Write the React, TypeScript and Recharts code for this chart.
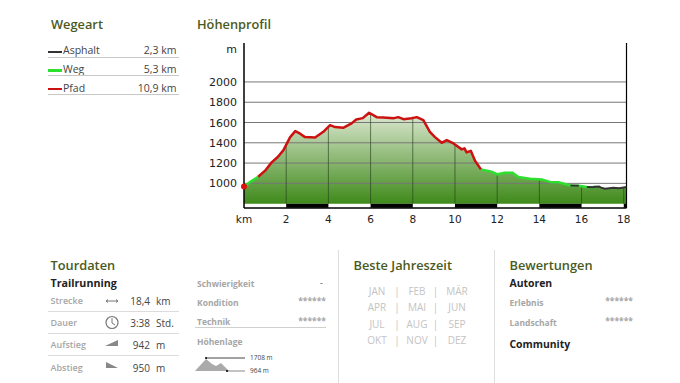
import React from "react";
import { ComposedChart, Area, Line, XAxis, YAxis, ReferenceLine, ReferenceArea, ReferenceDot } from "recharts";

const kmValues = [0,0.3,0.67,1.0,1.31,1.61,1.87,2.18,2.43,2.66,2.89,3.37,3.76,4.08,4.32,4.70,5.10,5.32,5.63,5.93,6.29,6.60,7.11,7.31,7.56,7.94,8.19,8.50,8.81,9.04,9.37,9.61,9.93,10.32,10.45,10.55,10.75,10.95,11.23,11.73,12.02,12.36,12.73,13.0,13.56,14.11,14.57,14.9,15.47,15.87,16.02,16.25,16.53,16.64,16.83,16.93,17.11,17.51,17.78,18.13];
const elevations = [970,1015,1065,1125,1207,1262,1328,1453,1515,1490,1456,1452,1508,1574,1555,1548,1591,1630,1643,1696,1653,1650,1643,1653,1633,1642,1653,1624,1508,1458,1400,1427,1394,1335,1345,1305,1321,1223,1138,1114,1089,1104,1104,1062,1045,1039,1010,1010,980,976,972,964,962,966,968,958,947,957,953,964];
// surface of the stretch that begins at each point
const surfaces = ["W","W","P","P","P","P","P","P","P","P","P","P","P","P","P","P","P","P","P","P","P","P","P","P","P","P","P","P","P","P","P","P","P","P","P","P","P","P","W","W","W","W","W","W","W","W","W","W","A","W","W","A","W","A","A","A","A","A","A","A"];
const surfaceKeys: Record<string,string> = { A: "asphalt", W: "weg", P: "pfad" };
const colorAsphalt = "#333333", colorWeg = "#2ee02e", colorPfad = "#cc1111";

const profile = kmValues.map((km, i) => {
  const row: any = { km, ele: elevations[i] };
  const s = surfaces[i];
  row[surfaceKeys[s]] = elevations[i];
  if (i > 0) row[surfaceKeys[surfaces[i - 1]]] = elevations[i];
  return row;
});

const xTicks = [0,2,4,6,8,10,12,14,16,18];
const yTicks = [1000,1200,1400,1600,1800,2000,2325];
const blackStretches = [[2,4],[6,8],[10,12],[14,16],[18,18.13]];
const verticalKm = [2,4,6,8,10,12,14,16,18];
const gridHeights = [1000,1200,1400,1600,1800,2000];

const eleAt = (x: number) => {
  for (let i = 1; i < kmValues.length; i++) {
    if (x <= kmValues[i]) {
      const t = (x - kmValues[i-1]) / (kmValues[i] - kmValues[i-1]);
      return elevations[i-1] + t * (elevations[i] - elevations[i-1]);
    }
  }
  return elevations[elevations.length - 1];
};

const legendRows = [["Asphalt","2,3 km",colorAsphalt],["Weg","5,3 km",colorWeg],["Pfad","10,9 km",colorPfad]];
const tourRows = [["Strecke","18,4","km"],["Dauer","3:38","Std."],["Aufstieg","942","m"],["Abstieg","950","m"]];
const months = [["JAN","FEB","MÄR"],["APR","MAI","JUN"],["JUL","AUG","SEP"],["OKT","NOV","DEZ"]];

const FONT = "'Open Sans', sans-serif";
const T = ({ x, y, s, c = "#333", w = 400, a = "left", f = FONT, children }: any) => (
  <div style={{ position: "absolute", top: y, left: a === "left" ? x : undefined, right: a === "right" ? 680 - x : undefined,
    ...(a === "center" ? { left: x - 18, width: 36, textAlign: "center" as const } : {}),
    fontSize: s, color: c, fontWeight: w, fontFamily: f, lineHeight: "16px", whiteSpace: "nowrap" }}>{children}</div>
);
const Rule = ({ x, y, w, h = 1, c = "#c8c8c8" }: any) => (
  <div style={{ position: "absolute", left: x, top: y, width: w, height: h, background: c }} />
);
const HEAD = "#4a5a1e";
const GREY = "#a6a6a6";

const AxisTickY = ({ x, y, payload }: any) => (
  <text x={x + 1} y={y + 4} textAnchor="end" fontSize={11} fill="#222" fontFamily="'DejaVu Sans', sans-serif">
    {payload.value === 2325 ? "m" : payload.value}
  </text>
);
const AxisTickX = ({ x, y, payload }: any) => (
  <text x={x} y={y + 7} textAnchor="middle" fontSize={10.5} fill="#222" fontFamily="'DejaVu Sans', sans-serif">
    {payload.value === 0 ? "km" : payload.value}
  </text>
);

export default function App() {
  return (
    <div style={{ position: "absolute", left: 0, top: 0, width: 680, height: 383, background: "#fff", overflow: "hidden" }}>
      <ComposedChart width={680} height={383} data={profile} margin={{ top: 43, right: 53.5, left: 200, bottom: 151 }} style={{ position: "absolute", left: 0, top: 0 }}>
        <defs>
          <linearGradient id="fillGrad" x1="0" y1="0" x2="0" y2="1">
            <stop offset="0%" stopColor="#dde8d2" />
            <stop offset="100%" stopColor="#3f8a1a" />
          </linearGradient>
        </defs>
        <XAxis dataKey="km" type="number" domain={[0,18.13]} ticks={xTicks} interval={0} height={24} tickLine={false} axisLine={{ stroke: "#000", strokeWidth: 1.5 }} tick={<AxisTickX />} />
        <YAxis type="number" domain={[757,2384]} ticks={yTicks} interval={0} width={44} tickLine={false} axisLine={{ stroke: "#000", strokeWidth: 1.5 }} tick={<AxisTickY />} allowDataOverflow />
        <Area dataKey="ele" type="linear" baseValue={800} stroke="none" fill="url(#fillGrad)" fillOpacity={1} isAnimationActive={false} />
        {gridHeights.map((h) => (<ReferenceLine key={h} y={h} stroke="#777" strokeWidth={1} />))}
        {verticalKm.map((k) => (
          <ReferenceLine key={k} segment={[{ x: k, y: 800 }, { x: k, y: eleAt(k) }]} stroke="#24401a" strokeWidth={0.8} strokeOpacity={0.8} />
        ))}
        {blackStretches.map(([a, b]) => (
          <ReferenceArea key={a} x1={a} x2={b} y1={760} y2={800} fill="#000" fillOpacity={1} stroke="none" />
        ))}
        <ReferenceLine x={18.13} stroke="#000" strokeWidth={1.2} />
        <Line dataKey="weg" stroke={colorWeg} strokeWidth={2.5} dot={false} connectNulls={false} isAnimationActive={false} />
        <Line dataKey="asphalt" stroke={colorAsphalt} strokeWidth={2} dot={false} connectNulls={false} isAnimationActive={false} />
        <Line dataKey="pfad" stroke={colorPfad} strokeWidth={2.5} strokeLinejoin="round" dot={false} connectNulls={false} isAnimationActive={false} />
        <ReferenceDot x={0} y={970} r={3} fill="#e01010" stroke="none" />
      </ComposedChart>

      <T x={51} y={16} s={12.8} c={HEAD} w={600}>Wegeart</T>
      <T x={197} y={16} s={12.8} c={HEAD} w={600}>Höhenprofil</T>
      {legendRows.map((r, i) => (
        <React.Fragment key={r[0]}>
          <Rule x={48} y={50.5 + i * 18.7} w={14} h={2.5} c={r[2]} />
          <T x={63} y={42 + i * 18.8} s={10.5} c="#444">{r[0]}</T>
          <T x={176.5} y={42 + i * 18.8} s={10.5} c="#444" a="right">{r[1]}</T>
          <Rule x={48} y={56.5 + i * 18.8} w={131} />
        </React.Fragment>
      ))}

      <T x={50.5} y={256.5} s={12.8} c={HEAD} w={600}>Tourdaten</T>
      <T x={50.5} y={275} s={10.7} c="#222" w={700}>Trailrunning</T>
      {tourRows.map((r, i) => (
        <React.Fragment key={r[0]}>
          <T x={50.5} y={293 + i * 22.2} s={9} c={GREY} w={600}>{r[0]}</T>
          <T x={150} y={293 + i * 22.2} s={10} c="#444" a="right">{r[1]}</T>
          <T x={156} y={293 + i * 22.2} s={10} c="#444">{r[2]}</T>
          {i < 3 && <Rule x={48} y={310.5 + i * 22.2} w={131} c="#dcdcdc" />}
        </React.Fragment>
      ))}
      <svg width={40} height={90} style={{ position: "absolute", left: 100, top: 290 }} fill="none">
        <path d="M6 11 H18 M6 11 l2 -1.5 M6 11 l2 1.5 M18 11 l-2 -1.5 M18 11 l-2 1.5" stroke="#777" />
        <circle cx={12} cy={32.5} r={6} stroke="#777" strokeWidth={1.2} />
        <path d="M12 28 V33 L15 35" stroke="#777" />
        <path d="M5 56 L18 50 V56 Z" fill="#888" />
        <path d="M6 72 L18 78 H6 Z" fill="#888" />
      </svg>

      <T x={197} y={276} s={8.5} c={GREY} w={700}>Schwierigkeit</T>
      <T x={197} y={295} s={8.5} c={GREY} w={700}>Kondition</T>
      <T x={197} y={314} s={8.5} c={GREY} w={700}>Technik</T>
      <T x={197} y={334} s={8.5} c={GREY} w={700}>Höhenlage</T>
      <T x={323} y={275} s={9} c="#555" a="right">-</T>
      <T x={326} y={293} s={8.5} c={GREY} w={700} a="right">******</T>
      <T x={326} y={313} s={8.5} c={GREY} w={700} a="right">******</T>
      <Rule x={195} y={327} w={131} c="#d0d0d0" />
      <svg width={90} height={30} style={{ position: "absolute", left: 195, top: 354 }}>
        <path d="M0 17 L11 5 L17 10 L21 12 L26 9 L34 17 Z" fill="#aaa" />
        <path d="M11 4 H50" stroke="#444" />
        <circle cx={11} cy={4} r={1} fill="#000" />
        <path d="M31 17 H50" stroke="#888" />
        <circle cx={32} cy={17} r={1} fill="#000" />
      </svg>
      <T x={250} y={350} s={6.5} c="#444">1708 m</T>
      <T x={250} y={363} s={6.5} c="#444">964 m</T>

      <Rule x={338} y={250} w={1} h={133} c="#dedede" />
      <T x={353.5} y={256.5} s={12.8} c={HEAD} w={600}>Beste Jahreszeit</T>
      {months.map((row, i) => (
        <React.Fragment key={row[0]}>
          {row.map((m, j) => (
            <T key={m} x={377 + j * 40} y={283 + i * 16.4} s={10} c="#c4c4c4" a="center">{m}</T>
          ))}
          <T x={397} y={283 + i * 16.4} s={10} c="#c4c4c4" a="center">|</T>
          <T x={435.5} y={283 + i * 16.4} s={10} c="#c4c4c4" a="center">|</T>
        </React.Fragment>
      ))}

      <Rule x={494} y={250} w={1} h={133} c="#dedede" />
      <T x={509.5} y={256.5} s={12.8} c={HEAD} w={600}>Bewertungen</T>
      <T x={509.5} y={275} s={10.4} c="#222" w={700}>Autoren</T>
      <T x={509.5} y={295} s={8.5} c={GREY} w={700}>Erlebnis</T>
      <T x={509.5} y={314.5} s={8.5} c={GREY} w={700}>Landschaft</T>
      <T x={633} y={293} s={8.5} c={GREY} w={700} a="right">******</T>
      <T x={633} y={313} s={8.5} c={GREY} w={700} a="right">******</T>
      <T x={509.5} y={336} s={10.4} c="#222" w={700}>Community</T>
    </div>
  );
}
